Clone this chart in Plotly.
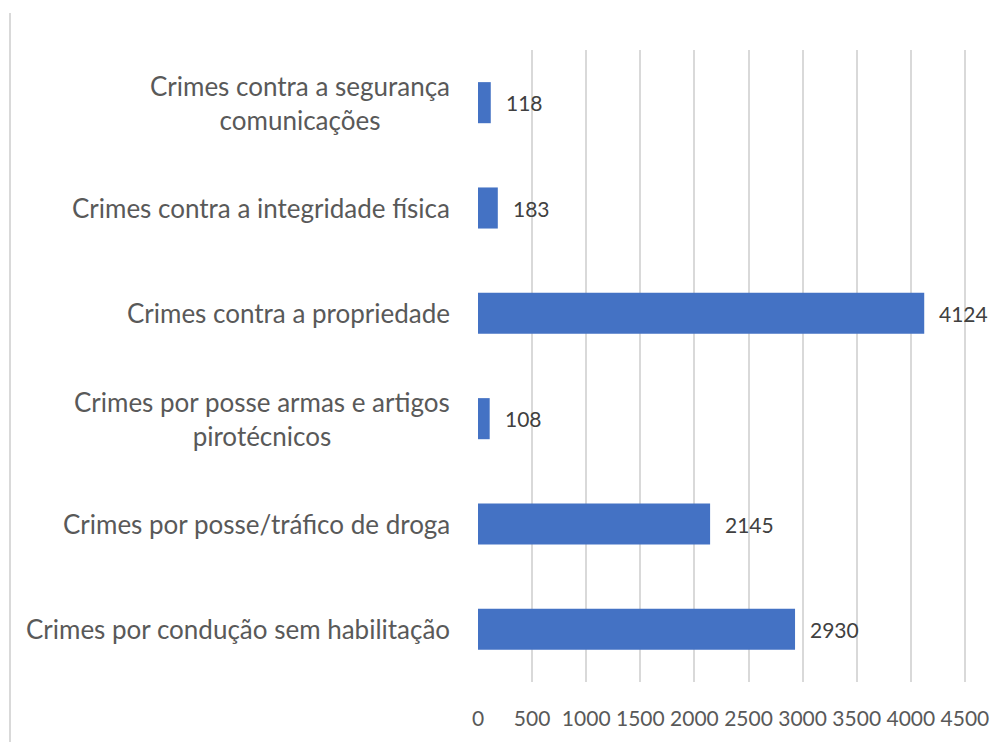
import plotly.graph_objects as go

categories = [
    "Crimes por condução sem habilitação",
    "Crimes por posse/tráfico de droga",
    "Crimes por posse armas e artigos<br>pirotécnicos",
    "Crimes contra a propriedade",
    "Crimes contra a integridade física",
    "Crimes contra a segurança<br>comunicações",
]
values = [2930, 2145, 108, 4124, 183, 118]
x_ticks = [0, 500, 1000, 1500, 2000, 2500, 3000, 3500, 4000, 4500]

FONT = "Lato"
GRAY = "#595959"

fig = go.Figure(go.Bar(
    x=values, y=categories, orientation="h",
    marker=dict(color="#4472C4", line=dict(width=0)),
    width=0.39, hoverinfo="x+y",
))

for c, v in zip(categories, values):
    fig.add_annotation(x=v, y=c, xref="x", yref="y", text=str(v),
                       showarrow=False, xanchor="left", xshift=13,
                       font=dict(family=FONT, size=21, color="#404040"))
    fig.add_annotation(x=0, y=c, xref="paper", yref="y", text=c,
                       showarrow=False, xanchor="right", xshift=-26, align="center",
                       font=dict(family=FONT, size=26, color=GRAY))

fig.add_shape(type="line", xref="paper", yref="paper",
              x0=-0.959, x1=-0.959, y0=-0.11, y1=1.0585,
              line=dict(color="#D9D9D9", width=2))

fig.update_layout(
    width=999, height=734,
    margin=dict(l=470, r=41, t=42, b=60),
    paper_bgcolor="white", plot_bgcolor="white",
    showlegend=False,
    bargap=0.61,
    font=dict(family=FONT, color=GRAY),
)
fig.update_xaxes(range=[0, 4510], tickvals=x_ticks, ticktext=[str(t) for t in x_ticks],
                 showgrid=True, gridcolor="#D9D9D9", gridwidth=1.5,
                 zeroline=False, showline=False, automargin=False, tickangle=0,
                 tickfont=dict(family=FONT, size=21, color=GRAY),
                 ticklabelstandoff=22)
fig.update_yaxes(showticklabels=False, showgrid=False, zeroline=False, showline=False,
                 automargin=False,
                 categoryorder="array", categoryarray=categories)

fig.write_html("out.html")
